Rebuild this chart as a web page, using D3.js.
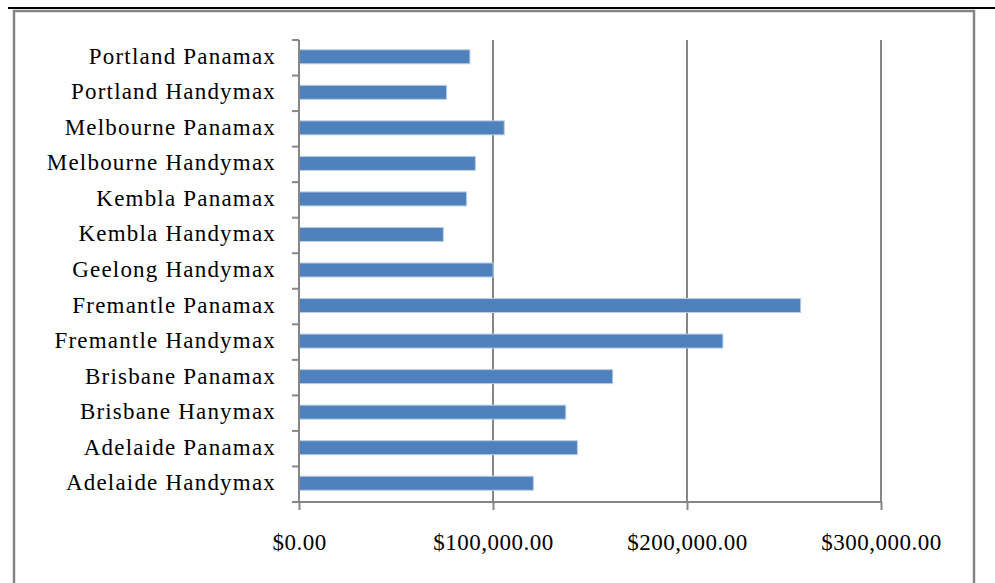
<!DOCTYPE html>
<html>
<head>
<meta charset="utf-8">
<script src="https://cdn.jsdelivr.net/npm/d3@7"></script>
<style>
  html, body { margin: 0; padding: 0; background: #fff; }
  svg { display: block; }
  text { font-family: "Liberation Serif", "Times New Roman", serif; fill: #000; }
</style>
</head>
<body>
<svg id="chart" width="995" height="583"></svg>
<script>
// Port terminal costs by vessel class (AUD), listed bottom to top
const categories = [
  "Adelaide Handymax",
  "Adelaide Panamax",
  "Brisbane Hanymax",
  "Brisbane Panamax",
  "Fremantle Handymax",
  "Fremantle Panamax",
  "Geelong Handymax",
  "Kembla Handymax",
  "Kembla Panamax",
  "Melbourne Handymax",
  "Melbourne Panamax",
  "Portland Handymax",
  "Portland Panamax"
];
const costs = [
  120800, 143500, 137500, 161700, 218500, 258600, 100100,
  74400, 86400, 90900, 105800, 76100, 88100
];
const xTicks = [0, 100000, 200000, 300000];

const svg = d3.select("#chart");

// page frame: rule under the heading and the chart border
svg.append("line")
  .attr("x1", 8).attr("x2", 995).attr("y1", 8).attr("y2", 8)
  .attr("stroke", "#000").attr("stroke-width", 2);
svg.append("path")
  .attr("d", "M14,600 V11 H974 V600")
  .attr("fill", "none").attr("stroke", "#858585").attr("stroke-width", 2.5);

const plot = { left: 299, right: 881, top: 40, bottom: 502 };

const x = d3.scaleLinear().domain([0, 300000]).range([plot.left, plot.right]);
const y = d3.scaleBand()
  .domain(categories.slice().reverse())
  .range([plot.top, plot.bottom]);

const axisColor = "#868686";

// vertical gridlines
svg.append("g").selectAll("line")
  .data(xTicks.filter(t => t > 0))
  .join("line")
  .attr("x1", d => x(d)).attr("x2", d => x(d))
  .attr("y1", plot.top).attr("y2", plot.bottom)
  .attr("stroke", axisColor).attr("stroke-width", 2);

// bars, centred in each category band
svg.append("g").selectAll("rect")
  .data(categories.map((c, i) => ({ c, v: costs[i] })))
  .join("rect")
  .attr("x", x(0))
  .attr("y", d => y(d.c) + y.bandwidth() / 2 - 8)
  .attr("width", d => x(d.v) - x(0))
  .attr("height", 14)
  .attr("fill", "#4F81BD")
  .attr("stroke", "#B9CDE5").attr("stroke-width", 1);

// category axis: line, boundary ticks, labels
const yAxis = svg.append("g");
yAxis.append("line")
  .attr("x1", plot.left).attr("x2", plot.left)
  .attr("y1", plot.top).attr("y2", plot.bottom)
  .attr("stroke", axisColor).attr("stroke-width", 2);
const bounds = y.domain().map(d => y(d)).concat([plot.bottom]);
yAxis.selectAll("line.tick")
  .data(bounds)
  .join("line")
  .attr("class", "tick")
  .attr("x1", plot.left - 7).attr("x2", plot.left)
  .attr("y1", d => d).attr("y2", d => d)
  .attr("stroke", axisColor).attr("stroke-width", 2);
yAxis.selectAll("text")
  .data(y.domain())
  .join("text")
  .attr("x", 276)
  .attr("y", d => y(d) + y.bandwidth() / 2 + 6)
  .attr("text-anchor", "end")
  .style("font-size", "23px")
  .style("letter-spacing", "1.2px")
  .text(d => d);

// value axis
const xAxis = svg.append("g")
  .attr("transform", `translate(0,${plot.bottom})`)
  .call(d3.axisBottom(x).tickValues(xTicks).tickSize(8).tickPadding(24)
    .tickFormat(d3.format("$,.2f")));
xAxis.select(".domain").remove();
xAxis.append("line")
  .attr("x1", plot.left - 7).attr("x2", plot.right)
  .attr("stroke", axisColor).attr("stroke-width", 2);
xAxis.selectAll(".tick line").attr("stroke", axisColor).attr("stroke-width", 2);
xAxis.selectAll(".tick text")
  .attr("fill", "#000")
  .style("font-family", '"Liberation Serif", "Times New Roman", serif')
  .style("font-size", "23px")
  .style("letter-spacing", "0.5px");
</script>
</body>
</html>
